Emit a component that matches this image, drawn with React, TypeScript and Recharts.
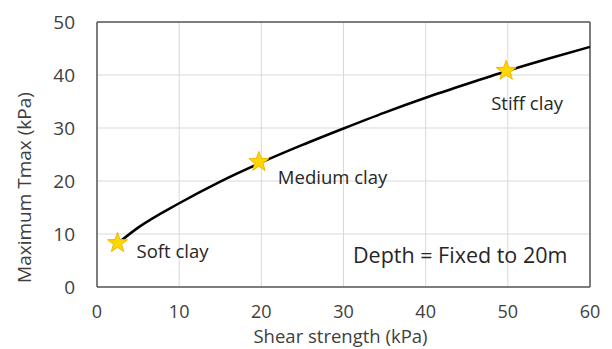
import React from "react";
import { ComposedChart, Line, Scatter, XAxis, YAxis, CartesianGrid, ReferenceLine, ReferenceDot, LabelList } from "recharts";

const curveX = [2.5, 5, 10, 15, 20, 25, 30, 35, 40, 45, 50, 55, 60];
const curveY = [8.2, 11.2, 15.8, 19.9, 23.5, 26.8, 29.9, 32.9, 35.7, 38.3, 40.8, 43.1, 45.3];
const clayNames = ["Soft clay", "Medium clay", "Stiff clay"];
const clayX = [2.5, 19.7, 49.8];
const clayY = [8.3, 23.6, 40.8];
const xTicks = [0, 10, 20, 30, 40, 50, 60];
const yTicks = [0, 10, 20, 30, 40, 50];

const curve = curveX.map((x, i) => ({ x, y: curveY[i] }));
const clays = clayNames.map((name, i) => ({ x: clayX[i], y: clayY[i], name }));

const labelOffsets: Record<string, { dx: number; dy: number }> = {
  "Soft clay": { dx: 19, dy: 9 },
  "Medium clay": { dx: 19, dy: 16 },
  "Stiff clay": { dx: -15, dy: 33 },
};

const FONT = "'Open Sans', 'Noto Sans', sans-serif";

const Star = (props: any) => {
  const { cx, cy } = props;
  const R = 10.5, r = 4.3;
  const pts: string[] = [];
  for (let i = 0; i < 10; i++) {
    const a = -Math.PI / 2 + (i * Math.PI) / 5;
    const rad = i % 2 === 0 ? R : r;
    pts.push(`${cx + rad * Math.cos(a)},${cy + rad * Math.sin(a)}`);
  }
  return <polygon points={pts.join(" ")} fill="#FFD700" stroke="#F2B600" strokeWidth={1} />;
};

const ClayLabel = (props: any) => {
  const { x, y, width, height, value } = props;
  const cx = x + (width || 0) / 2;
  const cy = y + (height || 0) / 2;
  const off = labelOffsets[value] || { dx: 0, dy: 0 };
  return (
    <text x={cx + off.dx} y={cy + off.dy} dy="0.35em" fontSize={18.5} fontFamily={FONT} fill="#262626">
      {value}
    </text>
  );
};

const XTitle = (props: any) => {
  const vb = props.viewBox || { x: 0, y: 0, width: 0, height: 0 };
  return (
    <text x={vb.x + vb.width / 2 - 3} y={vb.y + 50} dy="0.35em" textAnchor="middle" fontSize={18.5} fontFamily={FONT} fill="#404040">
      Shear strength (kPa)
    </text>
  );
};

const YTitle = (props: any) => {
  const vb = props.viewBox || { x: 0, y: 0, width: 0, height: 0 };
  const cx = vb.x + 24;
  const cy = vb.y + vb.height / 2 + 33;
  return (
    <text x={cx} y={cy} dy="0.35em" textAnchor="middle" transform={`rotate(-90 ${cx} ${cy})`} fontSize={19} fontFamily={FONT} fill="#404040">
      Maximum Tmax (kPa)
    </text>
  );
};

export default function App() {
  return (
    <div style={{ position: "absolute", left: 0, top: 0, width: 612, height: 349, background: "#fff" }}>
      <ComposedChart width={612} height={349} margin={{ top: 22, right: 22, left: 0, bottom: 0 }}>
        <CartesianGrid stroke="#d9d9d9" strokeWidth={1} />
        <XAxis
          type="number"
          dataKey="x"
          domain={[0, 60]}
          ticks={xTicks}
          height={62}
          tickLine={false}
          axisLine={{ stroke: "#595959", strokeWidth: 1.5 }}
          tick={{ fontSize: 18, fontFamily: FONT, fill: "#404040" }}
          tickMargin={12}
          label={<XTitle />}
          allowDuplicatedCategory={false}
        />
        <YAxis
          type="number"
          dataKey="y"
          domain={[0, 50]}
          ticks={yTicks}
          width={97}
          tickLine={false}
          axisLine={{ stroke: "#595959", strokeWidth: 1.5 }}
          tick={{ fontSize: 19, fontFamily: FONT, fill: "#404040" }}
          tickMargin={16}
          label={<YTitle />}
        />
        <ReferenceLine x={60} stroke="#595959" strokeWidth={1.5} />
        <ReferenceLine y={50} stroke="#595959" strokeWidth={1.5} />
        <Line data={curve} dataKey="y" type="monotone" stroke="#000" strokeWidth={2.5} dot={false} isAnimationActive={false} />
        <Scatter data={clays} dataKey="y" shape={<Star />} isAnimationActive={false}>
          <LabelList dataKey="name" content={<ClayLabel />} />
        </Scatter>
        <ReferenceDot
          x={44.2}
          y={6.0}
          r={0}
          fill="none"
          stroke="none"
          label={{ value: "Depth = Fixed to 20m", position: "center", fontSize: 21.5, fontFamily: FONT, fill: "#262626" }}
        />
      </ComposedChart>
    </div>
  );
}
